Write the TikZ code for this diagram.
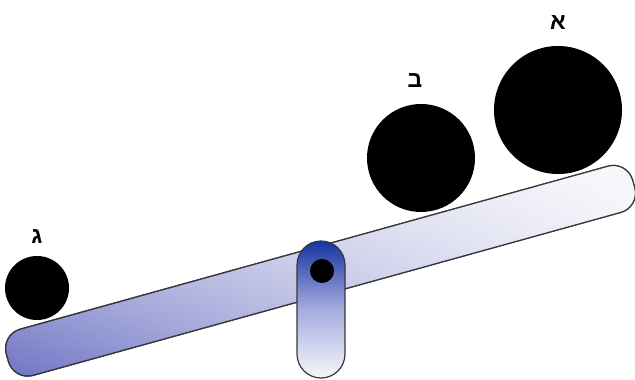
\documentclass[tikz,border=0pt]{standalone}
\usepackage{fontspec}
\newfontfamily\hebfont[Script=Hebrew]{Liberation Sans}
\TeXXeTstate=1
\usepackage{xcolor}
\usetikzlibrary{positioning,fadings}

\definecolor{beamblue}{RGB}{108,114,196}
\definecolor{beamlight}{RGB}{222,222,240}
\definecolor{pivotblue}{RGB}{22,52,160}
\definecolor{pivotmid}{RGB}{165,172,222}
\definecolor{pivotlow}{RGB}{246,246,250}
\definecolor{edgegray}{RGB}{55,55,60}
\tikzfading[name=fade right, left color=transparent!100, right color=transparent!15]

\begin{document}
\begin{tikzpicture}[x=0.5pt, y=0.5pt,
  ball/.style={circle, fill=black, inner sep=0pt},
  tag/.style={font=\hebfont\bfseries\fontsize{11.5}{12}\selectfont, inner sep=0pt, text=black},
  outline/.style={draw=edgegray, line width=0.6pt}]
  \useasboundingbox (0,0) rectangle (635,379);
  % the beam
  \begin{scope}[shift={(320.5,108.2)}, rotate=15.5]
    \draw[outline, rounded corners=10pt, top color=beamlight, bottom color=beamblue] (-325,-24) rectangle (325,24);
    \fill[white, path fading=fade right, rounded corners=10pt] (-325,-24) rectangle (325,24);
    \draw[outline, rounded corners=10pt] (-325,-24) rectangle (325,24);
  \end{scope}
  % weights
  \node[ball, minimum size=32pt] (gimel) at (37,91) {};
  \node[ball, minimum size=54pt] (bet) at (421,221) {};
  \node[ball, minimum size=64pt] (alef) at (558,269) {};
  \node[tag, above=6pt of gimel] (gimel tag) {\beginR ג\endR};
  \node[tag, above=8pt of bet, xshift=-3pt] (bet tag) {\beginR ב\endR};
  \node[tag, above=8pt of alef] (alef tag) {\beginR א\endR};
  % pivot
  \node[outline, rounded corners=12pt, minimum width=24pt, minimum height=68.5pt, inner sep=0pt,
    top color=pivotblue, bottom color=pivotlow, middle color=pivotmid] (pivot) at (321,69.5) {};
  \node[ball, minimum size=12pt] (pin) at (322,108) {};
\end{tikzpicture}
\end{document}
